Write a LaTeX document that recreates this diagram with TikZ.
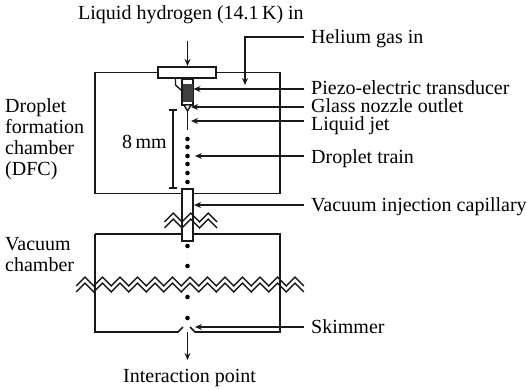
\documentclass[tikz,border=0pt]{standalone}
\usepackage{fontspec}
\setmainfont{Liberation Serif}
\usetikzlibrary{arrows.meta}
\tikzset{
 wall/.style={line width=1.6pt,black!90},
 thinwall/.style={line width=1.4pt,black!90},
 lead/.style={line width=1.4pt,black!90,-{Stealth[length=7pt,width=6pt]}},
 lab/.style={anchor=base west,font=\fontsize{20}{22}\selectfont,inner sep=0pt},
 dot/.style={circle,fill=black,inner sep=0pt,minimum size=4.6pt},
 box/.style={draw=black!90,line width=1.6pt,fill=white,inner sep=0pt}
}
\newcommand{\zigzag}[3]{%
 \draw[thinwall,line join=miter] (#1,#2)
 \foreach \i in {1,...,#3} { -- ({#1+\i*8.75},{#2-mod(\i,2)*9}) };
 \draw[thinwall,line join=miter] (#1,#2+6)
 \foreach \i in {1,...,#3} { -- ({#1+\i*8.75},{#2+6-mod(\i,2)*9}) };
}
\begin{document}
\begin{tikzpicture}[x=1pt,y=-1pt]
\useasboundingbox (0,0) rectangle (527,389);
% chambers
\draw[wall] (95,72.5) rectangle (280,193.5);
\draw[wall] (95,234) -- (95,332) -- (178,332) -- (183,327);
\draw[wall] (95,234) -- (280,234) -- (280,332) -- (195,332) -- (190,327);
% injector
\draw[thinwall] (175.5,78) -- (175.5,85) -- (181,90);
\node[box,minimum width=58pt,minimum height=11.5pt] (plate) at (187,72.5) {};
\node[box,minimum width=11pt,minimum height=26pt,anchor=north] (piezo) at (187.5,78) {};
\fill[black!75] (182.5,84) rectangle (192.5,102);
\draw[thinwall,fill=white] (184,105) -- (191,105) -- (187.5,111) -- cycle;
\coordinate (jetTop) at (187.5,110);
\coordinate (jetEnd) at (187.5,130);
\draw[thinwall] (jetTop) -- (jetEnd);
% scale bar
\coordinate (barT) at (173,110);
\coordinate (barB) at (173,188);
\draw[thinwall] (barT) -- (barB);
\draw[thinwall] (169,110) -- (177,110) (169,188) -- (177,188);
% droplets
\foreach \n/\y in {a/139,b/147,c/156,d/164,e/173,f/182,g/246,h/266,i/297,j/318}
 \node[dot] (d\n) at (187.5,\y) {};
% capillary
\node[box,minimum width=11.5pt,minimum height=52pt,anchor=north] (cap) at (187.5,188) {};
\zigzag{164.5}{222}{6}
\zigzag{76.25}{286}{26}
% labels
\node[lab] (t0) at (78,19) {Liquid hydrogen (14.1\,K) in};
\node[lab] (t1) at (311,43) {Helium gas in};
\node[lab] (t2) at (311,94) {Piezo-electric transducer};
\node[lab] (t3) at (311,112) {Glass nozzle outlet};
\node[lab] (t4) at (311,130) {Liquid jet};
\node[lab] (t5) at (311,163) {Droplet train};
\node[lab] (t6) at (311,211) {Vacuum injection capillary};
\node[lab] (t7) at (311,333) {Skimmer};
\node[lab] (t8) at (123,382) {Interaction point};
\node[lab] at (5,112) {Droplet};
\node[lab] at (5,133) {formation};
\node[lab] at (5,154) {chamber};
\node[lab] at (5,175) {(DFC)};
\node[lab] at (5,250) {Vacuum};
\node[lab] at (5,271) {chamber};
\node[lab] (t11) at (122,148) {8\,mm};
% leaders
\coordinate (hIn) at (187.5,41);
\draw[lead] (hIn) -- (plate.north -| hIn);
\coordinate (heE) at (304,37);
\coordinate (heC) at (245,37);
\coordinate (heT) at (245,85);
\draw[lead] (heE) -- (heC) -- (heT);
\draw[lead] (304,89) -- (193.5,89);
\draw[lead] (304,107) -- (191,107);
\draw[lead] (304,121) -- (191,121);
\draw[lead] (304,156) -- (195,156);
\draw[lead] (304,205) -- (cap.east |- 0,205);
\draw[lead] (304,327) -- (195,327);
\coordinate (sk) at (187.5,332);
\coordinate (ip) at (187.5,360);
\draw[lead] (sk) -- (ip);
\end{tikzpicture}
\end{document}
